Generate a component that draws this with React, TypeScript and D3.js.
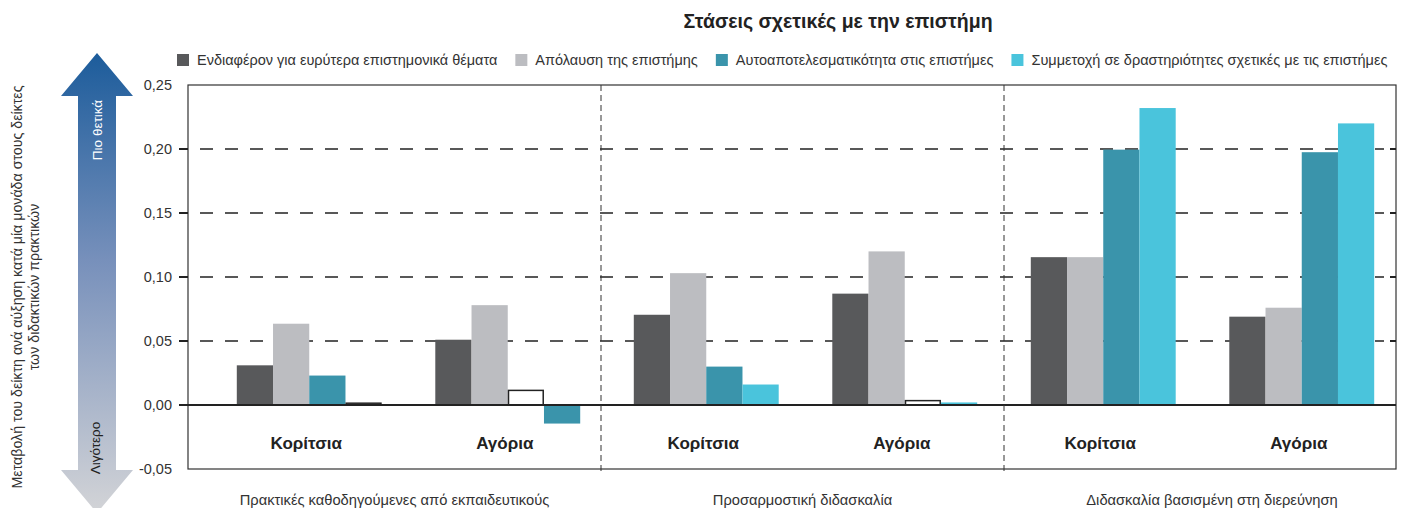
import React, { useEffect, useRef } from 'react';
import * as d3 from 'd3';

const title = 'Στάσεις σχετικές με την επιστήμη';
const practices = [
  'Πρακτικές καθοδηγούμενες από εκπαιδευτικούς',
  'Προσαρμοστική διδασκαλία',
  'Διδασκαλία βασισμένη στη διερεύνηση',
];
const genders = ['Κορίτσια', 'Αγόρια'];
const seriesKeys = ['interest', 'enjoyment', 'selfEfficacy', 'participation'];
const seriesNames = [
  'Ενδιαφέρον για ευρύτερα επιστημονικά θέματα',
  'Απόλαυση της επιστήμης',
  'Αυτοαποτελεσματικότητα στις επιστήμες',
  'Συμμετοχή σε δραστηριότητες σχετικές με τις επιστήμες',
];
// values per subgroup: practice 1 girls, boys, practice 2 girls, boys, practice 3 girls, boys
const interest = [0.031, 0.051, 0.0705, 0.087, 0.1155, 0.069];
const enjoyment = [0.0635, 0.078, 0.103, 0.12, 0.1155, 0.076];
const selfEfficacy = [0.023, 0.012, 0.03, 0.004, 0.1995, 0.1975];
const participation = [0.002, -0.0145, 0.016, 0.002, 0.232, 0.22];
const seriesValues = [interest, enjoyment, selfEfficacy, participation];

const yTicks = [-0.05, 0, 0.05, 0.1, 0.15, 0.2, 0.25];
const yTickLabels = ['-0,05', '0,00', '0,05', '0,10', '0,15', '0,20', '0,25'];
const axisTitle = [
  'Μεταβολή του δείκτη ανά αύξηση κατά μία μονάδα στους δείκτες',
  'των διδακτικών πρακτικών',
];
const arrowLabels = ['Πιο θετικά', 'Λιγότερο'];

// bars drawn hollow in the source (series, subgroup index)
const hollowBars: [string, number][] = [
  ['selfEfficacy', 1],
  ['selfEfficacy', 3],
  ['participation', 0],
];
// bar painted with another series colour in the source
const colourSwaps: [string, number, string][] = [['participation', 1, 'selfEfficacy']];

const colours = ['#58595b', '#bcbdc1', '#3a94ab', '#4ac4dc'];
const FONT = '"Liberation Sans", Arial, sans-serif';

const App = () => {
  const svgRef = useRef<SVGSVGElement>(null);

  useEffect(() => {
    const width = 1405;
    const height = 508;
    const left = 188;
    const right = 1396;
    const top = 85;
    const bottom = 469;

    const svg = d3.select(svgRef.current);
    svg.selectAll('*').remove();
    svg.attr('width', width).attr('height', height);

    const subgroups = d3.range(practices.length * genders.length);

    const x0 = d3
      .scaleBand<number>()
      .domain(subgroups)
      .range([210, 1401])
      .paddingInner(0.27)
      .paddingOuter(0.135);
    const x1 = d3.scaleBand<string>().domain(seriesKeys).range([0, x0.bandwidth()]);
    const y = d3.scaleLinear().domain([-0.05, 0.25]).range([bottom, top]);
    const colour = d3.scaleOrdinal<string, string>().domain(seriesKeys).range(colours);

    // Title
    svg
      .append('text')
      .attr('x', 838)
      .attr('y', 28)
      .attr('text-anchor', 'middle')
      .style('font-family', FONT)
      .style('font-size', '19.5px')
      .style('font-weight', 'bold')
      .style('fill', '#222')
      .text(title);

    // Legend, laid out from measured text widths
    let lx = 177;
    seriesKeys.forEach((key, i) => {
      svg
        .append('rect')
        .attr('x', lx)
        .attr('y', 54)
        .attr('width', 12)
        .attr('height', 12)
        .attr('fill', colour(key));
      const t = svg
        .append('text')
        .attr('x', lx + 20)
        .attr('y', 65)
        .style('font-family', FONT)
        .style('font-size', '14.5px')
        .style('fill', '#333')
        .text(seriesNames[i]);
      const w = (t.node() as SVGTextElement).getComputedTextLength();
      lx += 20 + w + 18;
    });

    // Gradient arrow on the left
    const defs = svg.append('defs');
    const grad = defs
      .append('linearGradient')
      .attr('id', 'arrowGrad')
      .attr('x1', 0)
      .attr('y1', 0)
      .attr('x2', 0)
      .attr('y2', 1);
    grad.append('stop').attr('offset', '0%').attr('stop-color', '#1c5c9b');
    grad.append('stop').attr('offset', '45%').attr('stop-color', '#7790bb');
    grad.append('stop').attr('offset', '100%').attr('stop-color', '#d3d4d7');

    const ax = 97;
    const arrow = d3.path();
    arrow.moveTo(ax, 53);
    arrow.lineTo(ax + 36, 96);
    arrow.lineTo(ax + 19, 96);
    arrow.lineTo(ax + 19, 470);
    arrow.lineTo(ax + 36, 470);
    arrow.lineTo(ax, 513);
    arrow.lineTo(ax - 36, 470);
    arrow.lineTo(ax - 19, 470);
    arrow.lineTo(ax - 19, 96);
    arrow.lineTo(ax - 36, 96);
    arrow.closePath();
    svg.append('path').attr('d', arrow.toString()).attr('fill', 'url(#arrowGrad)');

    svg
      .append('text')
      .attr('transform', `translate(${ax + 5},130) rotate(-90)`)
      .attr('text-anchor', 'middle')
      .style('font-family', FONT)
      .style('font-size', '13.5px')
      .style('fill', '#fff')
      .text(arrowLabels[0]);
    svg
      .append('text')
      .attr('transform', `translate(${ax + 3},448) rotate(-90)`)
      .attr('text-anchor', 'middle')
      .style('font-family', FONT)
      .style('font-size', '13.5px')
      .style('fill', '#222')
      .text(arrowLabels[1]);

    // Axis title
    axisTitle.forEach((line, i) => {
      svg
        .append('text')
        .attr('transform', `translate(${22 + i * 17},287) rotate(-90)`)
        .attr('text-anchor', 'middle')
        .style('font-family', FONT)
        .style('font-size', '14.2px')
        .style('fill', '#333')
        .text(line);
    });

    // Y tick labels
    svg
      .selectAll('text.ytick')
      .data(yTicks)
      .join('text')
      .attr('class', 'ytick')
      .attr('x', 172)
      .attr('y', (d) => y(d))
      .attr('dy', '0.35em')
      .attr('text-anchor', 'end')
      .style('font-family', FONT)
      .style('font-size', '14.5px')
      .style('fill', '#333')
      .text((d, i) => yTickLabels[i]);

    const inner = yTicks.filter((d) => d > 0 && d < 0.25);

    // Dashed gridlines
    svg
      .selectAll('line.grid')
      .data(inner)
      .join('line')
      .attr('class', 'grid')
      .attr('x1', left)
      .attr('x2', right - 12)
      .attr('y1', (d) => y(d))
      .attr('y2', (d) => y(d))
      .attr('stroke', '#222')
      .attr('stroke-width', 1.3)
      .attr('stroke-dasharray', '13,12')
      .attr('stroke-dashoffset', -12);

    // Bars
    const isHollow = (key: string, i: number) =>
      hollowBars.some(([k, j]) => k === key && j === i);
    const fillFor = (key: string, i: number) => {
      const swap = colourSwaps.find(([k, j]) => k === key && j === i);
      return colour(swap ? swap[2] : key);
    };

    seriesKeys.forEach((key, s) => {
      const bars = seriesValues[s].map((v, i) => ({ key, v, i }));
      svg
        .append('g')
        .selectAll('rect')
        .data(bars)
        .join('rect')
        .attr('x', (d) => x0(d.i)! + x1(key)! + (isHollow(key, d.i) ? 0.75 : 0))
        .attr('y', (d) => Math.min(y(d.v), y(0)) + (isHollow(key, d.i) ? 0.75 : 0))
        .attr('width', (d) => x1.bandwidth() - (isHollow(key, d.i) ? 1.5 : 0))
        .attr('height', (d) => Math.max(0, Math.abs(y(d.v) - y(0)) - (isHollow(key, d.i) ? 0.75 : 0)))
        .attr('fill', (d) => (isHollow(key, d.i) ? '#fff' : fillFor(key, d.i)))
        .attr('stroke', (d) => (isHollow(key, d.i) ? '#222' : 'none'))
        .attr('stroke-width', 1.5);
    });

    // Frame
    svg
      .append('rect')
      .attr('x', left)
      .attr('y', top)
      .attr('width', right - left)
      .attr('height', bottom - top)
      .attr('fill', 'none')
      .attr('stroke', '#333')
      .attr('stroke-width', 1.2);

    // Ticks: outside on the left, inside on the right
    svg
      .selectAll('line.ltick')
      .data(inner.concat([0]))
      .join('line')
      .attr('class', 'ltick')
      .attr('x1', left - 9)
      .attr('x2', left)
      .attr('y1', (d) => y(d))
      .attr('y2', (d) => y(d))
      .attr('stroke', '#222')
      .attr('stroke-width', 2);
    svg
      .selectAll('line.rtick')
      .data(inner)
      .join('line')
      .attr('class', 'rtick')
      .attr('x1', right - 6)
      .attr('x2', right)
      .attr('y1', (d) => y(d))
      .attr('y2', (d) => y(d))
      .attr('stroke', '#222')
      .attr('stroke-width', 2);

    // Zero line
    svg
      .append('line')
      .attr('x1', left - 9)
      .attr('x2', right)
      .attr('y1', y(0))
      .attr('y2', y(0))
      .attr('stroke', '#222')
      .attr('stroke-width', 2);

    // Dividers between practices
    const step = x0.step();
    const dividers = d3.range(1, practices.length).map(
      (p) => x0(p * genders.length)! - (step * x0.paddingInner()) / 2 - (p === 1 ? 6 : 0)
    );
    svg
      .selectAll('line.divider')
      .data(dividers)
      .join('line')
      .attr('class', 'divider')
      .attr('x1', (d) => d)
      .attr('x2', (d) => d)
      .attr('y1', top)
      .attr('y2', bottom + 4)
      .attr('stroke', '#333')
      .attr('stroke-width', 1)
      .attr('stroke-dasharray', '6,4');

    // Gender labels
    svg
      .selectAll('text.gender')
      .data(subgroups)
      .join('text')
      .attr('class', 'gender')
      .attr('x', (d) => x0(d)! + x0.bandwidth() / 2 - 3)
      .attr('y', 449)
      .attr('text-anchor', 'middle')
      .style('font-family', FONT)
      .style('font-size', '17px')
      .style('font-weight', 'bold')
      .style('fill', '#222')
      .text((d) => genders[d % genders.length]);

    // Practice labels, centred between frame edges and dividers
    const edges = [left, ...dividers, right];
    svg
      .selectAll('text.practice')
      .data(practices)
      .join('text')
      .attr('class', 'practice')
      .attr('x', (d, i) => (edges[i] + edges[i + 1]) / 2 + (i === 2 ? 12 : 0))
      .attr('y', 505)
      .attr('text-anchor', 'middle')
      .style('font-family', FONT)
      .style('font-size', '14.7px')
      .style('fill', '#333')
      .text((d) => d);
  }, []);

  return (
    <svg
      ref={svgRef}
      style={{ position: 'absolute', left: 0, top: 0, display: 'block', background: '#fff' }}
    ></svg>
  );
};

export default App;
